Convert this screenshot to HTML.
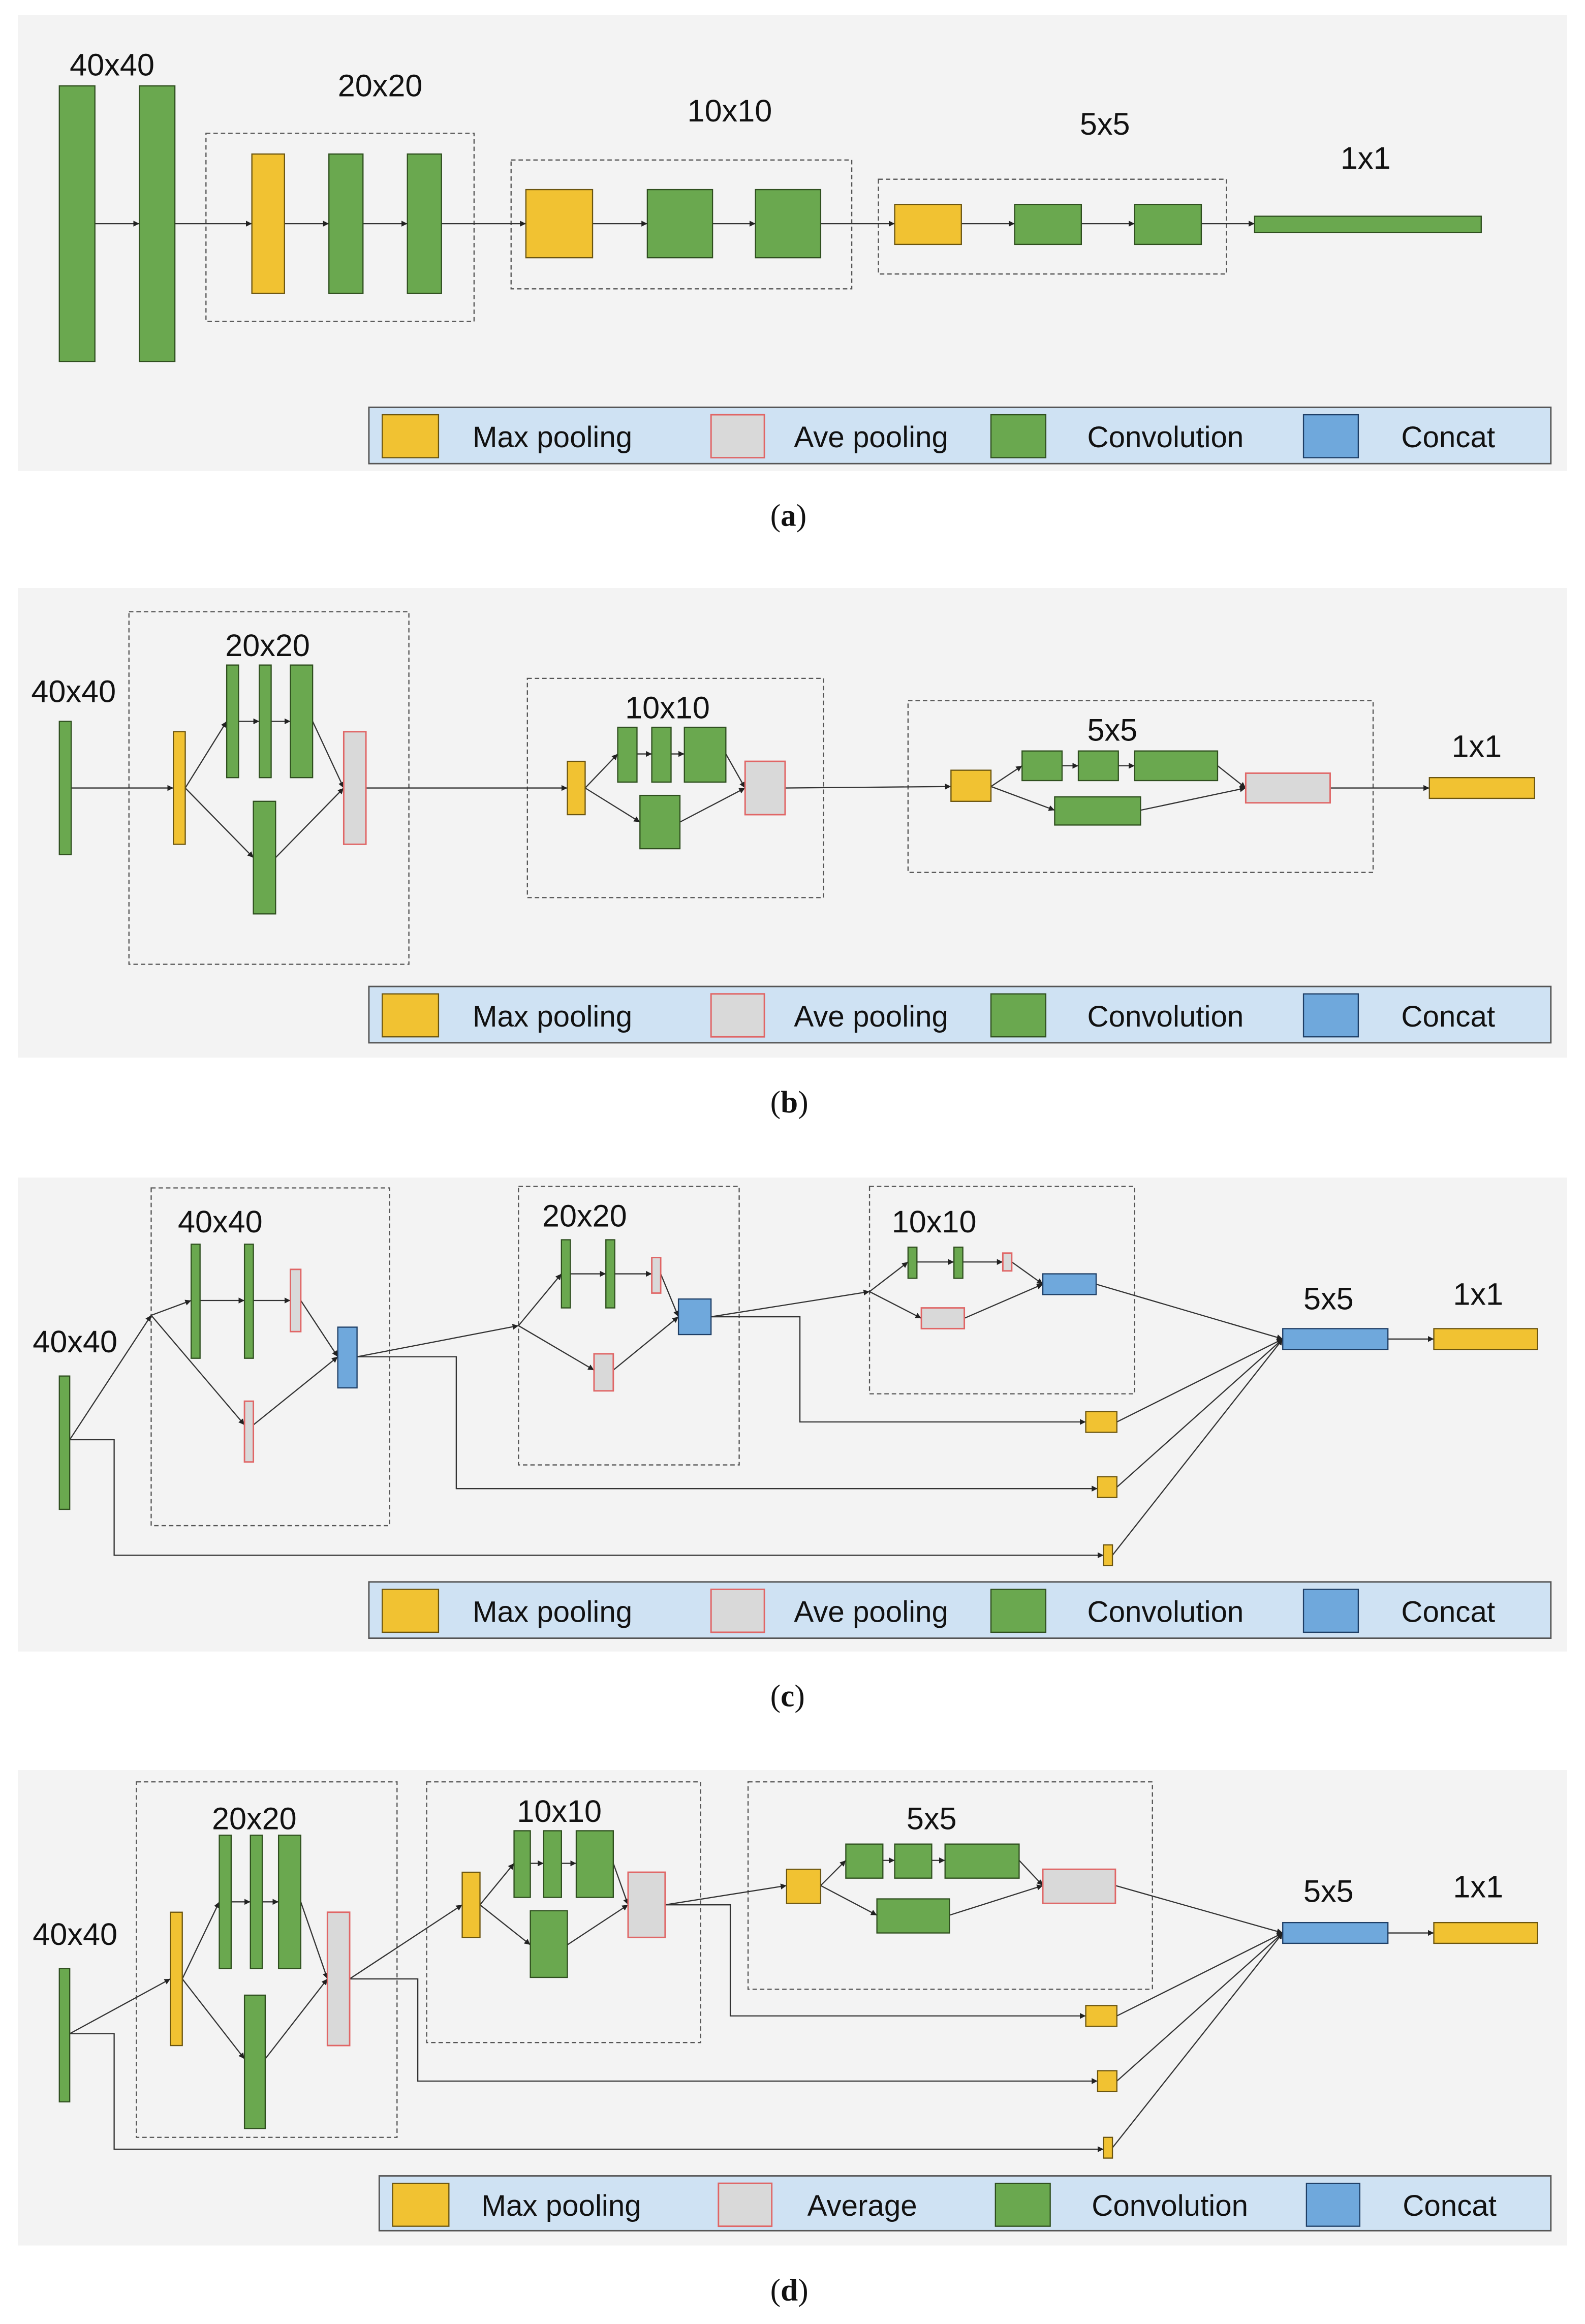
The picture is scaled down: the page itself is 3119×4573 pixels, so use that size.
<!DOCTYPE html>
<html><head><meta charset="utf-8"><style>
html,body{margin:0;padding:0;background:#fff;}
svg{display:block;}
text{font-family:"Liberation Sans",sans-serif;fill:#111;}
.lb{font-size:21px;}
.lg{font-size:20px;}
.cap{font-family:"Liberation Serif",serif;font-size:21px;}
.g{fill:#6aa84f;stroke:#2f4f1f;stroke-width:0.8;}
.y{fill:#f1c232;stroke:#6b5510;stroke-width:0.8;}
.b{fill:#6fa8dc;stroke:#1f3f66;stroke-width:0.8;}
.p{fill:#d9d9d9;stroke:#e06666;stroke-width:1;}
.bx{fill:none;stroke:#555;stroke-width:0.8;stroke-dasharray:3,2;}
.bg{fill:#f3f3f3;}
.leg{fill:#cfe2f3;stroke:#555;stroke-width:1;}
.l{fill:none;stroke:#333;stroke-width:0.8;marker-end:url(#a);}
.n{fill:none;stroke:#444;stroke-width:0.9;}
</style></head><body>
<svg width="3119" height="4573" viewBox="0 0 1070 1569" xmlns="http://www.w3.org/2000/svg">
<defs><marker id="a" viewBox="0 0 10 10" refX="10" refY="5" markerWidth="5" markerHeight="5" orient="auto"><path d="M0,0L10,5L0,10z" fill="#222"/></marker></defs>
<rect width="1070" height="1569" fill="#fff"/>

<!-- (a) -->
<rect class="bg" x="12" y="10" width="1046" height="308"/>
<text class="lb" x="47" y="51">40x40</text>
<text class="lb" x="228" y="65">20x20</text>
<text class="lb" x="464" y="82">10x10</text>
<text class="lb" x="729" y="91">5x5</text>
<text class="lb" x="905" y="114">1x1</text>
<rect class="bx" x="139" y="90" width="181" height="127"/>
<rect class="bx" x="345" y="108" width="230" height="87"/>
<rect class="bx" x="593" y="121" width="235" height="64"/>
<path class="l" d="M64,151H94"/><path class="l" d="M118,151H170"/><path class="l" d="M192,151H222"/><path class="l" d="M245,151H275"/><path class="l" d="M298,151H355"/><path class="l" d="M400,151H437"/><path class="l" d="M481,151H510"/><path class="l" d="M554,151H604"/><path class="l" d="M649,151H685"/><path class="l" d="M730,151H766"/><path class="l" d="M811,151H847"/>
<rect class="g" x="40" y="58" width="24" height="186"/>
<rect class="g" x="94" y="58" width="24" height="186"/>
<rect class="y" x="170" y="104" width="22" height="94"/>
<rect class="g" x="222" y="104" width="23" height="94"/>
<rect class="g" x="275" y="104" width="23" height="94"/>
<rect class="y" x="355" y="128" width="45" height="46"/>
<rect class="g" x="437" y="128" width="44" height="46"/>
<rect class="g" x="510" y="128" width="44" height="46"/>
<rect class="y" x="604" y="138" width="45" height="27"/>
<rect class="g" x="685" y="138" width="45" height="27"/>
<rect class="g" x="766" y="138" width="45" height="27"/>
<rect class="g" x="847" y="146" width="153" height="11"/>
<g transform="translate(0,0)">
<rect class="leg" x="249" y="275" width="798" height="38"/>
<rect class="y" x="258" y="280" width="38" height="29"/><text class="lg" x="319" y="302">Max pooling</text>
<rect class="p" x="480" y="280" width="36" height="29"/><text class="lg" x="536" y="302">Ave pooling</text>
<rect class="g" x="669" y="280" width="37" height="29"/><text class="lg" x="734" y="302">Convolution</text>
<rect class="b" x="880" y="280" width="37" height="29"/><text class="lg" x="946" y="302">Concat</text>
</g>
<text class="cap" x="520" y="355">(<tspan font-weight="bold">a</tspan>)</text>

<!-- (b) -->
<rect class="bg" x="12" y="397" width="1046" height="317"/>
<text class="lb" x="21" y="474">40x40</text>
<text class="lb" x="152" y="443">20x20</text>
<text class="lb" x="422" y="485">10x10</text>
<text class="lb" x="734" y="500">5x5</text>
<text class="lb" x="980" y="511">1x1</text>
<rect class="bx" x="87" y="413" width="189" height="238"/>
<rect class="bx" x="356" y="458" width="200" height="148"/>
<rect class="bx" x="613" y="473" width="314" height="116"/>
<path class="l" d="M48,532H117"/>
<path class="l" d="M125,532L153,487"/><path class="l" d="M125,532L171,579"/>
<path class="l" d="M161,487H175"/><path class="l" d="M183,487H196"/>
<path class="l" d="M211,487L232,532"/><path class="l" d="M186,579L232,532"/>
<path class="l" d="M247,532H383"/>
<path class="l" d="M395,532L417,509"/><path class="l" d="M395,532L432,555"/>
<path class="l" d="M430,509H440"/><path class="l" d="M453,509H462"/>
<path class="l" d="M490,509L503,532"/><path class="l" d="M459,555L503,532"/>
<path class="l" d="M530,532L642,531"/>
<path class="l" d="M669,531L690,517"/><path class="l" d="M669,531L712,547"/>
<path class="l" d="M717,517H728"/><path class="l" d="M755,517H766"/>
<path class="l" d="M822,517L841,532"/><path class="l" d="M770,547L841,532"/>
<path class="l" d="M898,532L965,532"/>
<rect class="g" x="40" y="487" width="8" height="90"/>
<rect class="y" x="117" y="494" width="8" height="76"/>
<rect class="g" x="153" y="449" width="8" height="76"/>
<rect class="g" x="175" y="449" width="8" height="76"/>
<rect class="g" x="196" y="449" width="15" height="76"/>
<rect class="g" x="171" y="541" width="15" height="76"/>
<rect class="p" x="232" y="494" width="15" height="76"/>
<rect class="y" x="383" y="514" width="12" height="36"/>
<rect class="g" x="417" y="491" width="13" height="37"/>
<rect class="g" x="440" y="491" width="13" height="37"/>
<rect class="g" x="462" y="491" width="28" height="37"/>
<rect class="g" x="432" y="537" width="27" height="36"/>
<rect class="p" x="503" y="514" width="27" height="36"/>
<rect class="y" x="642" y="520" width="27" height="21"/>
<rect class="g" x="690" y="507" width="27" height="20"/>
<rect class="g" x="728" y="507" width="27" height="20"/>
<rect class="g" x="766" y="507" width="56" height="20"/>
<rect class="g" x="712" y="538" width="58" height="19"/>
<rect class="p" x="841" y="522" width="57" height="20"/>
<rect class="y" x="965" y="525" width="71" height="14"/>
<rect class="leg" x="249" y="666" width="798" height="38"/>
<rect class="y" x="258" y="671" width="38" height="29"/><text class="lg" x="319" y="693">Max pooling</text>
<rect class="p" x="480" y="671" width="36" height="29"/><text class="lg" x="536" y="693">Ave pooling</text>
<rect class="g" x="669" y="671" width="37" height="29"/><text class="lg" x="734" y="693">Convolution</text>
<rect class="b" x="880" y="671" width="37" height="29"/><text class="lg" x="946" y="693">Concat</text>
<text class="cap" x="520" y="751">(<tspan font-weight="bold">b</tspan>)</text>

<!-- (c) -->
<rect class="bg" x="12" y="795" width="1046" height="320"/>
<text class="lb" x="22" y="913">40x40</text>
<text class="lb" x="120" y="832">40x40</text>
<text class="lb" x="366" y="828">20x20</text>
<text class="lb" x="602" y="832">10x10</text>
<text class="lb" x="880" y="884">5x5</text>
<text class="lb" x="981" y="881">1x1</text>
<rect class="bx" x="102" y="802" width="161" height="228"/>
<rect class="bx" x="350" y="801" width="149" height="188"/>
<rect class="bx" x="587" y="801" width="179" height="140"/>
<path class="l" d="M47,972L102,888"/>
<path class="l" d="M102,888L129,878"/><path class="l" d="M102,888L165,962"/>
<path class="l" d="M135,878H165"/><path class="l" d="M171,878H196"/>
<path class="l" d="M203,878L228,916"/><path class="l" d="M171,962L228,916"/>
<path class="l" d="M241,916L350,895"/>
<path class="l" d="M350,895L379,860"/><path class="l" d="M350,895L401,925"/>
<path class="l" d="M385,860H409"/><path class="l" d="M415,860H440"/>
<path class="l" d="M446,860L458,889"/><path class="l" d="M414,925L458,889"/>
<path class="l" d="M480,889L587,872"/>
<path class="l" d="M587,872L613,852"/><path class="l" d="M587,872L622,890"/>
<path class="l" d="M619,852H644"/><path class="l" d="M650,852H677"/>
<path class="l" d="M683,852L704,867"/><path class="l" d="M651,890L704,867"/>
<path class="l" d="M740,867L866,904"/>
<path class="l" d="M937,904H968"/>
<path class="l" d="M241,916H308V1005H741"/>
<path class="l" d="M480,889H540V960H733"/>
<path class="l" d="M47,972H77V1050H745"/>
<path class="l" d="M754,960L866,904"/><path class="l" d="M754,1004L866,904"/><path class="l" d="M751,1050L866,904"/>
<rect class="g" x="40" y="929" width="7" height="90"/>
<rect class="g" x="129" y="840" width="6" height="77"/>
<rect class="g" x="165" y="840" width="6" height="77"/>
<rect class="p" x="196" y="857" width="7" height="42"/>
<rect class="p" x="165" y="946" width="6" height="41"/>
<rect class="b" x="228" y="896" width="13" height="41"/>
<rect class="g" x="379" y="837" width="6" height="46"/>
<rect class="g" x="409" y="837" width="6" height="46"/>
<rect class="p" x="440" y="849" width="6" height="24"/>
<rect class="p" x="401" y="914" width="13" height="25"/>
<rect class="b" x="458" y="877" width="22" height="24"/>
<rect class="g" x="613" y="842" width="6" height="21"/>
<rect class="g" x="644" y="842" width="6" height="21"/>
<rect class="p" x="677" y="846" width="6" height="12"/>
<rect class="p" x="622" y="883" width="29" height="14"/>
<rect class="b" x="704" y="860" width="36" height="14"/>
<rect class="b" x="866" y="897" width="71" height="14"/>
<rect class="y" x="968" y="897" width="70" height="14"/>
<rect class="y" x="733" y="953" width="21" height="14"/>
<rect class="y" x="741" y="997" width="13" height="14"/>
<rect class="y" x="745" y="1043" width="6" height="14"/>
<rect class="leg" x="249" y="1068" width="798" height="38"/>
<rect class="y" x="258" y="1073" width="38" height="29"/><text class="lg" x="319" y="1095">Max pooling</text>
<rect class="p" x="480" y="1073" width="36" height="29"/><text class="lg" x="536" y="1095">Ave pooling</text>
<rect class="g" x="669" y="1073" width="37" height="29"/><text class="lg" x="734" y="1095">Convolution</text>
<rect class="b" x="880" y="1073" width="37" height="29"/><text class="lg" x="946" y="1095">Concat</text>
<text class="cap" x="520" y="1152">(<tspan font-weight="bold">c</tspan>)</text>

<!-- (d) -->
<rect class="bg" x="12" y="1195" width="1046" height="321"/>
<text class="lb" x="22" y="1313">40x40</text>
<text class="lb" x="143" y="1235">20x20</text>
<text class="lb" x="349" y="1230">10x10</text>
<text class="lb" x="612" y="1235">5x5</text>
<text class="lb" x="880" y="1284">5x5</text>
<text class="lb" x="981" y="1281">1x1</text>
<rect class="bx" x="92" y="1203" width="176" height="240"/>
<rect class="bx" x="288" y="1203" width="185" height="176"/>
<rect class="bx" x="505" y="1203" width="273" height="140"/>
<path class="l" d="M47,1373L115,1336"/>
<path class="l" d="M123,1336L148,1284"/><path class="l" d="M123,1336L165,1390"/>
<path class="l" d="M156,1284H169"/><path class="l" d="M177,1284H188"/>
<path class="l" d="M203,1284L221,1336"/><path class="l" d="M179,1390L221,1336"/>
<path class="l" d="M236,1336L312,1286"/>
<path class="l" d="M324,1286L347,1258"/><path class="l" d="M324,1286L358,1313"/>
<path class="l" d="M358,1258H367"/><path class="l" d="M379,1258H389"/>
<path class="l" d="M414,1258L424,1286"/><path class="l" d="M383,1313L424,1286"/>
<path class="l" d="M449,1286L531,1273"/>
<path class="l" d="M554,1273L571,1256"/><path class="l" d="M554,1273L592,1293"/>
<path class="l" d="M596,1256H604"/><path class="l" d="M629,1256H638"/>
<path class="l" d="M688,1256L704,1273"/><path class="l" d="M641,1293L704,1273"/>
<path class="l" d="M753,1273L866,1305"/>
<path class="l" d="M937,1305H968"/>
<path class="l" d="M449,1286H493V1361H733"/>
<path class="l" d="M236,1336H282V1405H741"/>
<path class="l" d="M47,1373H77V1451H745"/>
<path class="l" d="M754,1361L866,1305"/><path class="l" d="M754,1405L866,1305"/><path class="l" d="M751,1450L866,1305"/>
<rect class="g" x="40" y="1329" width="7" height="90"/>
<rect class="y" x="115" y="1291" width="8" height="90"/>
<rect class="g" x="148" y="1239" width="8" height="90"/>
<rect class="g" x="169" y="1239" width="8" height="90"/>
<rect class="g" x="188" y="1239" width="15" height="90"/>
<rect class="g" x="165" y="1347" width="14" height="90"/>
<rect class="p" x="221" y="1291" width="15" height="90"/>
<rect class="y" x="312" y="1264" width="12" height="44"/>
<rect class="g" x="347" y="1236" width="11" height="45"/>
<rect class="g" x="367" y="1236" width="12" height="45"/>
<rect class="g" x="389" y="1236" width="25" height="45"/>
<rect class="g" x="358" y="1290" width="25" height="45"/>
<rect class="p" x="424" y="1264" width="25" height="44"/>
<rect class="y" x="531" y="1262" width="23" height="23"/>
<rect class="g" x="571" y="1245" width="25" height="23"/>
<rect class="g" x="604" y="1245" width="25" height="23"/>
<rect class="g" x="638" y="1245" width="50" height="23"/>
<rect class="g" x="592" y="1282" width="49" height="23"/>
<rect class="p" x="704" y="1262" width="49" height="23"/>
<rect class="b" x="866" y="1298" width="71" height="14"/>
<rect class="y" x="968" y="1298" width="70" height="14"/>
<rect class="y" x="733" y="1354" width="21" height="14"/>
<rect class="y" x="741" y="1398" width="13" height="14"/>
<rect class="y" x="745" y="1443" width="6" height="14"/>
<rect class="leg" x="256" y="1469" width="791" height="37"/>
<rect class="y" x="265" y="1474" width="38" height="29"/><text class="lg" x="325" y="1496">Max pooling</text>
<rect class="p" x="485" y="1474" width="36" height="29"/><text class="lg" x="545" y="1496">Average</text>
<rect class="g" x="672" y="1474" width="37" height="29"/><text class="lg" x="737" y="1496">Convolution</text>
<rect class="b" x="882" y="1474" width="36" height="29"/><text class="lg" x="947" y="1496">Concat</text>
<text class="cap" x="520" y="1553">(<tspan font-weight="bold">d</tspan>)</text>
</svg>
</body></html>
